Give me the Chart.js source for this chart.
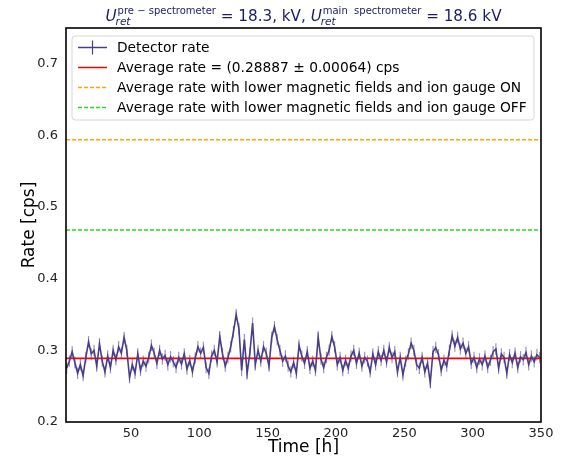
<!DOCTYPE html>
<html>
<head>
<meta charset="utf-8">
<script src="https://cdn.jsdelivr.net/npm/chart.js@4.4.0/dist/chart.umd.min.js"></script>
<style>
  html, body { margin: 0; padding: 0; background: #fff; }
  #wrap { width: 577px; height: 456px; }
</style>
</head>
<body>
<div id="wrap"><canvas id="rateChart" width="577" height="456"></canvas></div>
<script>
// time in hours, every 2 h
var times = [];
for (var t = 3; t <= 349; t += 2) times.push(t);

var rates = [
    0.275, 0.285, 0.298, 0.283, 0.268, 0.280, 0.265, 0.290, 0.312, 0.295,
    0.300, 0.278, 0.309, 0.285, 0.270, 0.292, 0.276, 0.300, 0.287, 0.305,
    0.296, 0.318, 0.300, 0.262, 0.280, 0.268, 0.295, 0.272, 0.285, 0.278,
    0.290, 0.307, 0.296, 0.282, 0.300, 0.288, 0.293, 0.280, 0.291, 0.284,
    0.276, 0.290, 0.281, 0.295, 0.274, 0.286, 0.270, 0.289, 0.305, 0.296,
    0.304, 0.276, 0.268, 0.292, 0.300, 0.284, 0.319, 0.295, 0.278, 0.290,
    0.305, 0.326, 0.350, 0.330, 0.272, 0.315, 0.268, 0.296, 0.338, 0.280,
    0.300, 0.285, 0.305, 0.296, 0.278, 0.318, 0.333, 0.315, 0.300, 0.285,
    0.292, 0.278, 0.270, 0.283, 0.268, 0.307, 0.292, 0.282, 0.298, 0.275,
    0.285, 0.272, 0.318, 0.288, 0.276, 0.290, 0.300, 0.319, 0.305, 0.280,
    0.290, 0.272, 0.286, 0.275, 0.292, 0.300, 0.282, 0.296, 0.278, 0.290,
    0.285, 0.270, 0.295, 0.280, 0.298, 0.286, 0.300, 0.284, 0.304, 0.290,
    0.298, 0.270, 0.290, 0.266, 0.285, 0.295, 0.310, 0.300, 0.280, 0.275,
    0.290, 0.270, 0.282, 0.255, 0.298, 0.304, 0.294, 0.272, 0.286, 0.278,
    0.300, 0.320, 0.306, 0.318, 0.302, 0.310, 0.296, 0.305, 0.282, 0.290,
    0.276, 0.288, 0.280, 0.292, 0.276, 0.286, 0.298, 0.302, 0.275, 0.295,
    0.290, 0.268, 0.294, 0.283, 0.296, 0.276, 0.291, 0.287, 0.297, 0.280,
    0.292, 0.284, 0.294, 0.290
];
var rateError = 0.008;

var avgRate = 0.28887;
var avgRateIonOn = 0.594;
var avgRateIonOff = 0.468;

var xMin = 2.5, xMax = 350;
var yMin = 0.2, yMax = 0.75;
var xTicks = [50, 100, 150, 200, 250, 300, 350];
var yTicks = [0.2, 0.3, 0.4, 0.5, 0.6, 0.7];

var legendLabels = [
    "Detector rate",
    "Average rate = (0.28887 \u00b1 0.00064) cps",
    "Average rate with lower magnetic fields and ion gauge ON",
    "Average rate with lower magnetic fields and ion gauge OFF"
];

var FONT = "'DejaVu Sans', sans-serif";
var lineColor = "#483d8b";
var orange = "#ffa500", green = "#22dd22";

var detectorData = times.map(function (t, i) { return {x: t, y: rates[i]}; });
function flat(v) { return [{x: xMin, y: v}, {x: xMax, y: v}]; }

// error bars for the detector rate
var errorBars = {
    id: 'errorBars',
    beforeDatasetsDraw: function (chart) {
        var ctx = chart.ctx, xs = chart.scales.x, ys = chart.scales.y;
        ctx.save();
        ctx.strokeStyle = "rgba(72,61,139,0.55)";
        ctx.lineWidth = 1.2;
        ctx.beginPath();
        times.forEach(function (t, i) {
            var px = xs.getPixelForValue(t);
            ctx.moveTo(px, ys.getPixelForValue(rates[i] - rateError));
            ctx.lineTo(px, ys.getPixelForValue(rates[i] + rateError));
        });
        ctx.stroke();
        ctx.restore();
    }
};

// frame, title, axis titles and legend
var decorations = {
    id: 'decorations',
    afterDraw: function (chart) {
        var ctx = chart.ctx, a = chart.chartArea;
        ctx.save();
        ctx.strokeStyle = "#000";
        ctx.lineWidth = 1.6;
        ctx.strokeRect(a.left, a.top, a.right - a.left, a.bottom - a.top);

        // axis titles
        ctx.fillStyle = "#000";
        ctx.font = "17px " + FONT;
        ctx.textAlign = "center";
        ctx.textBaseline = "alphabetic";
        ctx.fillText("Time [h]", (a.left + a.right) / 2, 452);
        ctx.save();
        ctx.translate(34, (a.top + a.bottom) / 2);
        ctx.rotate(-Math.PI / 2);
        ctx.fillText("Rate [cps]", 0, 0);
        ctx.restore();

        // title with sub/superscripts
        var big = "15.2px " + FONT, bigIt = "italic 15.2px " + FONT;
        var small = "10px " + FONT, smallIt = "italic 10.5px " + FONT;
        var parts = [
            {u: true, sup: "pre \u2212 spectrometer"},
            {text: " = 18.3, kV, "},
            {u: true, sup: "main  spectrometer"},
            {text: " = 18.6 kV"}
        ];
        function partWidth(p) {
            if (p.u) {
                ctx.font = bigIt; var w = ctx.measureText("U").width;
                ctx.font = small; var ws = ctx.measureText(p.sup).width;
                ctx.font = smallIt; var wr = ctx.measureText("ret").width;
                return w + Math.max(ws, wr) + 1;
            }
            ctx.font = big; return ctx.measureText(p.text).width;
        }
        var total = 0;
        parts.forEach(function (p) { total += partWidth(p); });
        var x = (a.left + a.right) / 2 - total / 2, base = 21;
        ctx.fillStyle = "#1c1c66";
        ctx.textAlign = "left";
        parts.forEach(function (p) {
            var w = partWidth(p);
            if (p.u) {
                ctx.font = bigIt; ctx.fillText("U", x, base);
                var uw = ctx.measureText("U").width;
                ctx.font = small; ctx.fillText(p.sup, x + uw + 1, base - 7);
                ctx.font = smallIt; ctx.fillText("ret", x + uw - 1, base + 4);
            } else {
                ctx.font = big; ctx.fillText(p.text, x, base);
            }
            x += w;
        });

        // legend
        var lx = a.left + 6, ly = a.top + 8, lw = 462, lh = 84;
        ctx.fillStyle = "rgba(255,255,255,0.9)";
        ctx.strokeStyle = "#d6d6d6";
        ctx.lineWidth = 1;
        ctx.beginPath();
        if (ctx.roundRect) ctx.roundRect(lx, ly, lw, lh, 3); else ctx.rect(lx, ly, lw, lh);
        ctx.fill();
        ctx.stroke();
        var styles = [
            {c: lineColor, dash: [], w: 1.5, err: true},
            {c: "#ff0000", dash: [], w: 1.5},
            {c: orange, dash: [4, 2], w: 1.5},
            {c: green, dash: [4, 2], w: 1.5}
        ];
        ctx.font = "13.8px " + FONT;
        ctx.textBaseline = "middle";
        legendLabels.forEach(function (lab, i) {
            var yy = Math.round(ly + 11 + i * 20) + 0.5, s = styles[i];
            ctx.strokeStyle = s.c;
            ctx.lineWidth = s.w;
            ctx.setLineDash(s.dash);
            ctx.beginPath();
            ctx.moveTo(lx + 6, yy);
            ctx.lineTo(lx + 35, yy);
            ctx.stroke();
            ctx.setLineDash([]);
            if (s.err) {
                ctx.lineWidth = 1.2;
                ctx.beginPath();
                ctx.moveTo(lx + 20.5, yy - 7);
                ctx.lineTo(lx + 20.5, yy + 7);
                ctx.stroke();
            }
            ctx.fillStyle = "#000";
            ctx.fillText(lab, lx + 45, yy + 1);
        });
        ctx.restore();
    }
};

new Chart(document.getElementById("rateChart"), {
    type: 'line',
    data: {
        datasets: [
            {
                label: legendLabels[0],
                data: detectorData,
                borderColor: lineColor,
                borderWidth: 1.6,
                pointRadius: 0,
                tension: 0,
                fill: false
            },
            {
                label: legendLabels[1],
                data: flat(avgRate),
                borderColor: "#ff0000",
                borderWidth: 1.6,
                pointRadius: 0
            },
            {
                label: legendLabels[2],
                data: flat(avgRateIonOn),
                borderColor: orange,
                borderWidth: 1.3,
                borderDash: [4, 2],
                pointRadius: 0
            },
            {
                label: legendLabels[3],
                data: flat(avgRateIonOff),
                borderColor: green,
                borderWidth: 1.3,
                borderDash: [4, 2],
                pointRadius: 0
            }
        ]
    },
    options: {
        responsive: false,
        animation: false,
        parsing: false,
        layout: {padding: {left: 0, top: 28, right: 36, bottom: 0}},
        plugins: {legend: {display: false}, tooltip: {enabled: false}, title: {display: false}},
        scales: {
            x: {
                type: 'linear',
                min: xMin, max: xMax,
                grid: {display: false, drawTicks: false},
                border: {display: false},
                afterBuildTicks: function (axis) { axis.ticks = xTicks.map(function (v) { return {value: v}; }); },
                afterFit: function (axis) { axis.height = 34; },
                ticks: {font: {family: FONT, size: 13}, color: "#222", padding: 4, maxRotation: 0}
            },
            y: {
                type: 'linear',
                min: yMin, max: yMax,
                grid: {display: false, drawTicks: false},
                border: {display: false},
                afterBuildTicks: function (axis) { axis.ticks = yTicks.map(function (v) { return {value: v}; }); },
                afterFit: function (axis) { axis.width = 66; },
                ticks: {
                    font: {family: FONT, size: 13}, color: "#222", padding: 8,
                    callback: function (v) { return v.toFixed(1); }
                }
            }
        }
    },
    plugins: [errorBars, decorations]
});
</script>
</body>
</html>
